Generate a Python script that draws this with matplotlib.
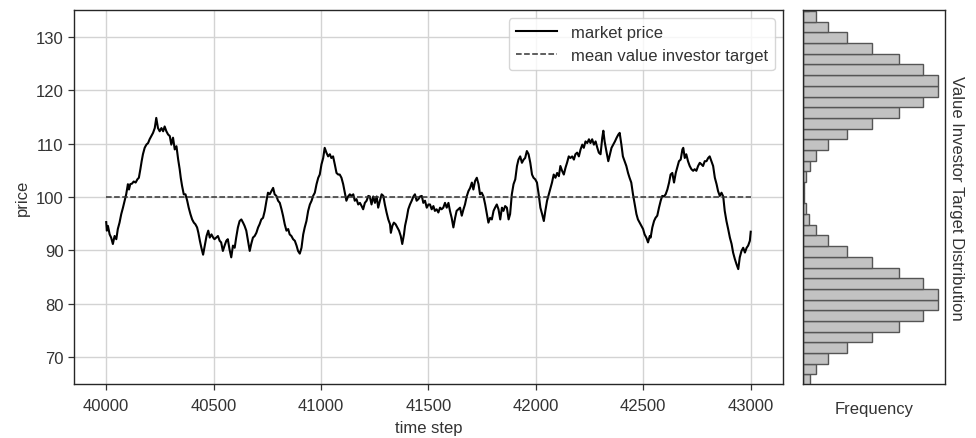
import numpy as np
import matplotlib
matplotlib.use("Agg")
import matplotlib.pyplot as plt

# market price (time step, price)
STEP = [
    40000, 40003, 40008, 40016, 40023, 40031, 40039, 40047, 40054, 40062, 40070, 40078, 40086, 40093,
    40101, 40106, 40112, 40120, 40128, 40137, 40145, 40152, 40159, 40165, 40171, 40179, 40187, 40195,
    40202, 40210, 40218, 40226, 40233, 40241, 40249, 40257, 40265, 40272, 40280, 40288, 40296, 40303,
    40311, 40319, 40327, 40335, 40342, 40347, 40353, 40361, 40369, 40377, 40384, 40392, 40400, 40408,
    40415, 40423, 40429, 40436, 40443, 40451, 40459, 40467, 40475, 40482, 40490, 40498,
    40504, 40512, 40520, 40528, 40535, 40543, 40551, 40559, 40566, 40574, 40582, 40590, 40598, 40605,
    40613, 40621, 40629, 40637, 40644, 40652, 40660, 40668, 40675, 40683, 40691, 40699, 40707, 40714,
    40722, 40730, 40738, 40746, 40753, 40761, 40769, 40777, 40784, 40792, 40800, 40808, 40816, 40823,
    40831, 40839, 40847, 40854, 40862, 40870, 40878, 40886, 40893, 40901, 40909, 40917, 40924, 40932,
    40940, 40948, 40956, 40963, 40971, 40979, 40987,
    40994, 41002, 41010, 41017, 41025, 41033, 41041, 41048, 41056, 41064, 41072, 41080, 41087, 41095,
    41103, 41111, 41118, 41126, 41134, 41142, 41150, 41157, 41165, 41173, 41181, 41189, 41196, 41204,
    41212, 41220, 41227, 41235, 41243, 41251, 41259, 41266, 41274, 41282, 41290, 41297, 41305, 41313,
    41321, 41325, 41332, 41339, 41347, 41355, 41363, 41371, 41378, 41386, 41391, 41399, 41406, 41414,
    41422, 41430, 41437, 41445, 41453, 41461, 41469, 41476, 41484, 41492, 41500,
    41507, 41515, 41523, 41530, 41538, 41546, 41554, 41561, 41569, 41577, 41585, 41593, 41600, 41608,
    41616, 41624, 41631, 41639, 41647, 41655, 41663, 41670, 41678, 41686, 41694, 41702, 41709, 41717,
    41725, 41733, 41740, 41748, 41756, 41764, 41772, 41779, 41787, 41795, 41803, 41810, 41818, 41826,
    41834, 41842, 41849, 41857, 41865, 41873, 41880, 41888, 41896, 41904, 41912, 41919, 41927, 41935,
    41943, 41950, 41958, 41966, 41974, 41982, 41989, 41997, 42005, 42013,
    42021, 42029, 42037, 42044, 42052, 42060, 42068, 42075, 42083, 42091, 42099, 42107, 42114, 42122,
    42130, 42138, 42145, 42153, 42161, 42169, 42177, 42184, 42192, 42200, 42208, 42216, 42223, 42231,
    42239, 42247, 42254, 42262, 42270, 42278, 42286, 42293, 42301, 42309, 42314, 42320, 42328, 42337,
    42345, 42352, 42360, 42368, 42376, 42384, 42390, 42398, 42405, 42413, 42421, 42429, 42436, 42444,
    42452, 42460, 42468, 42475, 42483, 42491, 42499, 42506, 42514, 42522, 42530,
    42534, 42542, 42550, 42557, 42565, 42573, 42581, 42588, 42596, 42604, 42612, 42620, 42627, 42635,
    42643, 42651, 42658, 42666, 42674, 42682, 42686, 42693, 42700, 42708, 42716, 42724, 42732, 42739,
    42747, 42755, 42763, 42771, 42778, 42786, 42794, 42802, 42809, 42817, 42825, 42833, 42841, 42848,
    42856, 42864, 42872, 42879, 42887, 42895, 42903, 42911, 42918, 42926, 42934, 42942, 42949, 42957,
    42965, 42973, 42981, 42988, 42996, 43000,
]
PRICE = [
    95.3, 93.7, 94.6, 93.0, 92.4, 91.2, 92.7, 92.1, 94.0, 95.2, 96.8, 98.0, 99.3, 100.5,
    102.4, 101.4, 102.4, 102.5, 102.9, 102.7, 103.3, 103.6, 105.2, 106.7, 108.0, 109.2, 109.8, 110.1,
    110.8, 111.4, 112.0, 112.9, 114.8, 112.9, 112.3, 112.9, 112.3, 113.2, 112.3, 111.7, 111.4, 109.8,
    111.1, 108.9, 109.5, 107.0, 105.2, 103.6, 102.1, 100.5, 100.5, 99.3, 98.0, 96.8, 95.8, 95.2,
    94.9, 94.3, 93.3, 91.8, 90.5, 89.2, 90.9, 92.7, 93.7, 92.4, 93.0, 92.4,
    92.1, 92.4, 92.7, 91.8, 91.5, 89.9, 90.9, 91.8, 92.1, 90.2, 88.7, 90.9, 90.5, 92.4,
    94.3, 95.5, 95.8, 95.2, 94.6, 93.7, 91.8, 89.9, 91.2, 92.4, 92.7, 93.3, 94.3, 94.9,
    95.8, 96.1, 97.4, 99.3, 100.8, 100.5, 101.1, 101.7, 100.5, 100.2, 99.3, 98.9, 97.7, 96.5,
    94.9, 93.7, 94.0, 93.0, 92.7, 92.1, 91.8, 90.9, 89.9, 89.4, 90.5, 93.0, 94.3, 95.5,
    97.4, 98.6, 99.3, 100.2, 100.8, 102.4, 103.6,
    104.2, 106.1, 107.3, 109.2, 108.3, 107.6, 108.0, 107.3, 107.6, 106.1, 104.5, 104.2, 104.2, 103.6,
    102.4, 100.8, 99.3, 100.1, 100.5, 100.2, 100.5, 99.3, 99.6, 98.6, 98.9, 98.3, 97.7, 98.9,
    99.3, 100.2, 100.1, 98.6, 100.1, 98.9, 100.1, 98.0, 99.3, 100.5, 100.2, 98.6, 97.1, 95.8,
    94.9, 93.3, 94.6, 95.2, 94.9, 94.3, 93.7, 92.7, 91.2, 93.0, 94.6, 96.1, 97.7, 98.6,
    99.3, 100.1, 100.5, 99.3, 99.6, 100.1, 100.2, 98.9, 99.3, 98.0, 98.6,
    98.6, 97.7, 98.3, 97.4, 97.7, 97.1, 98.0, 97.7, 98.0, 98.9, 98.0, 98.9, 97.4, 96.1,
    94.3, 96.1, 97.4, 97.7, 98.0, 96.5, 97.7, 98.6, 100.1, 101.1, 101.7, 102.7, 101.4, 103.0,
    103.6, 102.4, 100.5, 100.8, 100.1, 98.6, 96.8, 95.2, 96.1, 95.8, 97.4, 98.0, 98.6, 97.7,
    95.8, 98.0, 97.4, 98.3, 98.0, 95.8, 96.8, 100.5, 102.4, 103.3, 105.8, 107.0, 107.6, 106.4,
    107.0, 107.3, 108.6, 108.0, 106.4, 104.2, 103.6, 103.3, 102.7, 100.5,
    98.0, 96.8, 95.5, 97.4, 99.3, 100.5, 101.7, 102.7, 104.2, 103.6, 104.5, 103.9, 105.8, 104.9,
    104.2, 105.5, 106.4, 107.6, 107.3, 107.6, 107.0, 108.0, 108.3, 107.6, 108.9, 109.8, 109.2, 110.4,
    110.1, 110.8, 110.1, 110.8, 109.8, 110.4, 109.2, 108.3, 108.0, 111.1, 112.4, 110.4, 108.6, 106.7,
    108.0, 109.2, 109.8, 110.4, 111.1, 111.7, 112.0, 109.8, 107.6, 106.7, 105.8, 104.5, 103.6, 102.7,
    100.5, 98.6, 96.8, 95.8, 95.2, 94.6, 94.0, 93.0, 92.4, 91.5, 92.7,
    92.4, 94.3, 95.5, 96.1, 96.5, 98.0, 99.3, 100.2, 100.1, 100.5, 101.4, 102.7, 104.2, 104.5,
    102.7, 104.5, 105.5, 106.7, 107.0, 108.9, 109.2, 107.3, 108.0, 106.7, 105.8, 105.2, 104.9, 105.2,
    104.9, 105.8, 106.4, 106.1, 105.8, 106.7, 106.7, 107.3, 107.6, 106.7, 105.8, 103.6, 102.4, 101.1,
    100.2, 100.8, 100.1, 97.4, 95.5, 94.0, 92.4, 91.2, 89.6, 88.4, 87.4, 86.5, 88.7, 89.9,
    90.5, 89.6, 90.5, 90.9, 91.8, 93.5,
]
MEAN_TARGET = 100.0

# value investor target histogram (lower bin edge, relative frequency)
TARGET_BIN_LOW = np.arange(64.8, 135.0, 2.0)
TARGET_FREQ = [
    67, 127, 250, 440, 690, 960, 1200, 1350, 1350, 1200, 960, 690, 440, 250, 130, 63,
    33, 15, 10, 33,
    67, 127, 250, 440, 690, 960, 1200, 1350, 1350, 1200, 960, 690, 440, 250, 127, 63,
]
BIN_WIDTH = 2.0

plt.rcParams['font.family'] = ['Liberation Sans', 'DejaVu Sans']
plt.rcParams['font.size'] = 12
plt.rcParams['text.color'] = '#333333'
plt.rcParams['axes.labelcolor'] = '#333333'
plt.rcParams['xtick.color'] = '#333333'
plt.rcParams['ytick.color'] = '#333333'

fig = plt.figure(figsize=(9.76, 4.39), dpi=100)
ax = fig.add_axes([0.0758, 0.123, 0.7264, 0.852])
ax2 = fig.add_axes([0.8227, 0.123, 0.1455, 0.852], sharey=ax)

ax.plot(STEP, PRICE, '-', color='black', lw=1.5, label='market price')
ax.plot([STEP[0], STEP[-1]], [MEAN_TARGET, MEAN_TARGET], '--', color='#333333',
        lw=1.1, label='mean value investor target')
ax.set_ylim(65, 135)
ax.set_xticks([40000, 40500, 41000, 41500, 42000, 42500, 43000])
ax.set_yticks([70, 80, 90, 100, 110, 120, 130])
ax.grid(True, color='#d3d3d3', lw=1.0)
ax.set_axisbelow(True)
ax.tick_params(direction='out', length=4, width=0.9, colors='#333333', labelsize=12)
ax.tick_params(axis='x', pad=6)
ax.set_xlabel('time step', fontsize=12, labelpad=5)
ax.set_ylabel('price', fontsize=12)
for sp in ax.spines.values():
    sp.set_color('#262626')
    sp.set_linewidth(1.0)
leg = ax.legend(loc='upper right', fontsize=12, framealpha=0.8, fancybox=True,
                handlelength=2.5)
leg.get_frame().set_edgecolor('#cccccc')

ax2.barh(TARGET_BIN_LOW, TARGET_FREQ, height=BIN_WIDTH, align='edge',
         color='#c2c2c2', edgecolor='#555555', linewidth=1.0)
ax2.set_xlabel('Frequency', fontsize=12, labelpad=12)
ax2.set_xticks([])
ax2.tick_params(axis='y', left=False, labelleft=False)
ax2.yaxis.set_label_position('right')
ax2.set_ylabel('Value Investor Target Distribution', rotation=270, labelpad=14, fontsize=12)
ax2.grid(False)
for sp in ax2.spines.values():
    sp.set_color('#262626')
    sp.set_linewidth(1.0)
ax2.set_ylim(65, 135)

fig.savefig('out.png', dpi=100)
